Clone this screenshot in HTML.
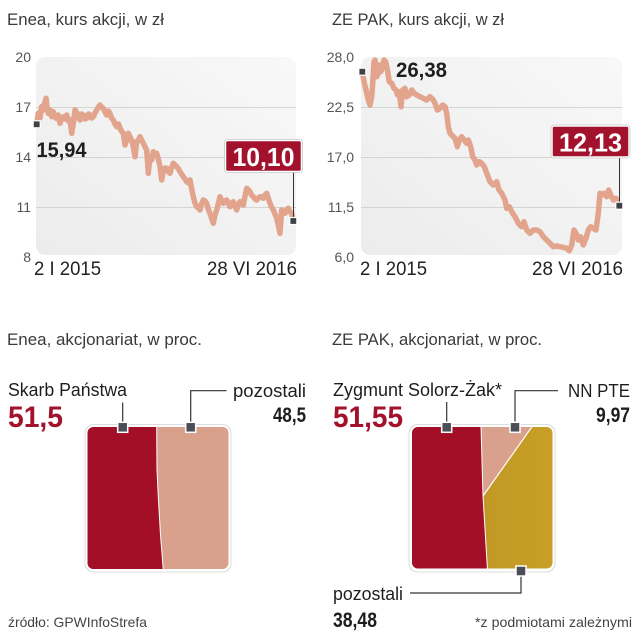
<!DOCTYPE html>
<html><head><meta charset="utf-8"><style>
html,body{margin:0;padding:0;background:#fff;}
svg{display:block;}
text{font-family:"Liberation Sans",sans-serif;}
</style></head><body>
<svg width="640" height="640" viewBox="0 0 640 640" xmlns="http://www.w3.org/2000/svg">
<defs>
<linearGradient id="bg" x1="0" y1="1" x2="1" y2="0">
<stop offset="0" stop-color="#ececec"/><stop offset="1" stop-color="#f8f8f8"/>
</linearGradient>
<linearGradient id="gold" x1="0" y1="0" x2="1" y2="0">
<stop offset="0" stop-color="#b8901f"/><stop offset="1" stop-color="#c8a028"/>
</linearGradient>
<clipPath id="c1"><rect x="87.5" y="427" width="141" height="142" rx="6"/></clipPath>
<clipPath id="c2"><rect x="412" y="427" width="140.5" height="141.5" rx="6"/></clipPath>
</defs>

<!-- Titles -->
<text x="7" y="25" font-size="17" fill="#3a3a3a" textLength="157" lengthAdjust="spacingAndGlyphs">Enea, kurs akcji, w zł</text>
<text x="332" y="25" font-size="17" fill="#3a3a3a" textLength="172" lengthAdjust="spacingAndGlyphs">ZE PAK, kurs akcji, w zł</text>

<!-- LEFT CHART -->
<rect x="36" y="57" width="260" height="198" rx="9" fill="url(#bg)"/>
<g stroke="#d4d4d4" stroke-width="1">
<line x1="36" y1="107.5" x2="296" y2="107.5"/>
<line x1="36" y1="157.5" x2="296" y2="157.5"/>
<line x1="36" y1="207.5" x2="296" y2="207.5"/>
</g>
<g font-size="14" fill="#555" text-anchor="end">
<text x="31" y="62">20</text>
<text x="31" y="112">17</text>
<text x="31" y="162">14</text>
<text x="31" y="212">11</text>
<text x="31" y="262">8</text>
</g>
<polyline fill="none" stroke="#e2a48c" stroke-width="5.5" stroke-linejoin="round" stroke-linecap="round" points="36.7,124.3 38.3,113.3 40,118 41.7,106.7 43.3,110 44.5,104 46,98.3 47.2,108 48.3,113.3 50,110 51.7,116.7 53.3,111.7 54.5,116 56,118.3 58.3,115 60,123.3 61.5,119 63.3,116.7 65,119 66.7,115 68.5,121 70,120 71.7,133.3 73.3,123.3 75,110 77.3,113.3 78.5,118 80,120 81.5,114 83.3,115 85,119 86.7,118.3 88.5,114 90,115 91.5,118 93.3,116.7 95,113 96.7,110 98.5,107 100,105 101.5,107 103.3,108.3 105,112 106.7,115 108.5,111 110,113.3 111.5,118 113.3,120 115,124 116.7,126.7 118.5,124 120,128.3 121.5,131 123.3,133.3 125,145 126.7,140 128.3,133.3 130,136.7 131.5,140 133.3,146.7 135,156.7 136.7,141.7 138.5,140 140,136.7 141.5,140 143.3,143.3 145,147 146.7,150 148.3,173.3 150,156.7 151.7,160 153.3,151.7 155,155 156.7,153.3 158.5,160 160,166.7 161.7,180 163.3,170 165,168 166.7,168.3 168.5,172 170,173.3 171.5,168 173.3,163.3 175,165 176.7,166.7 178.5,169 180,171.7 181.5,174 183.3,176.7 185,179 186.7,181.7 188.5,183 190,180 191.5,188 193.3,196.7 195,203 196.7,206.7 198.5,208 200,210 201.5,204 203.3,200 205,201 206.7,203.3 208.5,210 210,213.3 211.5,218 213.3,223.3 215,215 216.7,210 218.5,203 220,196.7 221.5,200 223.3,203.3 225,201 226.7,200 228.5,204 230,206.7 231.5,203 233.3,201.7 235,206 236.7,210 238.5,204 240,201.7 241.5,203 243.3,205 245,196 246.7,188.3 248.5,190 250,191.7 251.5,195 253.3,196.7 255,199 256.7,200 258.5,198 260,196.7 261.5,197 263.3,198.3 265,195 266.7,193.3 268.5,199 270,203.3 271.5,207 273.3,210 275,214 276.7,218.3 278.5,226 280,233.3 281.7,210 283.5,212 285,213.3 286.5,210 288.3,208.3 290,212 291.7,213.3 293.3,221"/>
<!-- markers -->
<rect x="33.2" y="120.8" width="7" height="7" fill="#3f4148" stroke="#fff" stroke-width="1.2"/>
<line x1="293.5" y1="171" x2="293.5" y2="219" stroke="#333" stroke-width="1"/>
<rect x="289.8" y="217.5" width="7" height="7" fill="#3f4148" stroke="#fff" stroke-width="1.2"/>
<text x="36.5" y="157" font-size="21" font-weight="bold" fill="#1e1e1e" textLength="50" lengthAdjust="spacingAndGlyphs">15,94</text>
<rect x="225.5" y="140.5" width="76" height="31" rx="2" fill="#a3122d" stroke="#fff" stroke-width="1.5"/>
<rect x="224.5" y="139.5" width="78" height="33" rx="3" fill="none" stroke="#c8c8c8" stroke-width="0.8"/>
<text x="263.5" y="166" font-size="26" font-weight="bold" fill="#fff" text-anchor="middle" textLength="62" lengthAdjust="spacingAndGlyphs">10,10</text>
<g font-size="19" fill="#222">
<text x="34" y="275" textLength="67" lengthAdjust="spacingAndGlyphs">2 I 2015</text>
<text x="207" y="275" textLength="90" lengthAdjust="spacingAndGlyphs">28 VI 2016</text>
</g>

<!-- RIGHT CHART -->
<rect x="361" y="57" width="261" height="198" rx="9" fill="url(#bg)"/>
<g stroke="#d4d4d4" stroke-width="1">
<line x1="361" y1="107.5" x2="622" y2="107.5"/>
<line x1="361" y1="157.5" x2="622" y2="157.5"/>
<line x1="361" y1="207.5" x2="622" y2="207.5"/>
</g>
<g font-size="14" fill="#555" text-anchor="end">
<text x="354" y="62">28,0</text>
<text x="354" y="112">22,5</text>
<text x="354" y="162">17,0</text>
<text x="354" y="212">11,5</text>
<text x="354" y="262">6,0</text>
</g>
<polyline fill="none" stroke="#e2a48c" stroke-width="5.5" stroke-linejoin="round" stroke-linecap="round" points="362.3,71.7 364,81.7 366,90 368.3,100 370,105 371.7,96.7 372.7,83.3 374,61.7 375,60 376.7,76.7 378.3,73.3 379.3,65 380.7,71.7 382.3,68.3 384,60 385.7,61.7 387.7,71.7 389.3,81.7 391.7,83.3 394,88.3 396,90 397.7,95 399.3,91.7 401,106.7 402.7,90 405,88.3 406.7,96.7 409.3,95 411.7,90 414.3,93.3 416.7,95 420,96.7 423.3,98.3 426.7,100 430,96.7 433.3,100 435,103.3 437.3,110 440,108.3 442.7,105 445,106.7 446.7,113.3 448.3,126.7 450,133.3 453.3,136.7 455,138.3 457.3,146.7 459.3,140 461.7,136.7 464,140 466.7,143.3 468.3,140 470.7,146.7 472.7,156.7 475,160 476.7,165 479.3,161.7 481.7,163.3 484.3,166.7 486.7,173.3 490,181.7 493.3,185 496.7,181.7 499,190 501.7,193.3 505,200 506.7,208.3 509.3,206.7 511.7,211.7 515,216.7 518.3,223.3 521.7,226.7 524,221.7 526.7,230 530,233.3 533.3,230 536.7,230 540,231.7 543.3,236.7 546.7,240 550,243.3 553.3,246.7 556.7,246 560,246.7 563.3,247.3 566.7,248.3 569.3,250.7 571.7,245 574,230 576,233.3 578.3,240 580.7,236.7 583.3,245 586,238.3 588.3,230 590.7,226.7 593.3,228.3 596,230 598.3,213.3 600,193.3 601.7,195 604,193.3 606.7,196.7 608.7,190 610.7,195 613.3,200 616,198.3 617.7,203.3 619.3,205.7"/>
<rect x="358.8" y="68.2" width="7" height="7" fill="#3f4148" stroke="#fff" stroke-width="1.2"/>
<line x1="619.5" y1="157" x2="619.5" y2="203" stroke="#333" stroke-width="1"/>
<rect x="615.8" y="202.2" width="7" height="7" fill="#3f4148" stroke="#fff" stroke-width="1.2"/>
<text x="396" y="77" font-size="21" font-weight="bold" fill="#1e1e1e" textLength="51" lengthAdjust="spacingAndGlyphs">26,38</text>
<rect x="552" y="126" width="77" height="31" rx="2" fill="#a3122d" stroke="#fff" stroke-width="1.5"/>
<rect x="551" y="125" width="79" height="33" rx="3" fill="none" stroke="#c8c8c8" stroke-width="0.8"/>
<text x="590.5" y="151.5" font-size="26" font-weight="bold" fill="#fff" text-anchor="middle" textLength="63" lengthAdjust="spacingAndGlyphs">12,13</text>
<g font-size="19" fill="#222">
<text x="360" y="275" textLength="67" lengthAdjust="spacingAndGlyphs">2 I 2015</text>
<text x="532" y="275" textLength="91" lengthAdjust="spacingAndGlyphs">28 VI 2016</text>
</g>

<!-- Bottom titles -->
<text x="7" y="345" font-size="17" fill="#3a3a3a" textLength="195" lengthAdjust="spacingAndGlyphs">Enea, akcjonariat, w proc.</text>
<text x="332" y="345" font-size="17" fill="#3a3a3a" textLength="210" lengthAdjust="spacingAndGlyphs">ZE PAK, akcjonariat, w proc.</text>

<!-- LEFT SQUARE -->
<rect x="84.5" y="424" width="147" height="148.5" rx="9" fill="#ddd"/>
<rect x="85.5" y="425" width="145" height="146.5" rx="8.5" fill="#fff"/>
<g clip-path="url(#c1)">
<rect x="87" y="426" width="142" height="144" fill="#d9a18c"/>
<path d="M87,426 L156.7,426 L157,470 L158.3,497 L160.5,535 L163.3,570 L87,570 Z" fill="#a30f27"/>
<path d="M156.7,426 L157,470 L158.3,497 L160.5,535 L163.3,570" fill="none" stroke="#fff" stroke-width="1"/>
</g>
<g stroke="#333" stroke-width="1.2" fill="none">
<line x1="122.7" y1="402.5" x2="122.7" y2="423"/>
<polyline points="190.7,423 190.7,390.7 226.5,390.7"/>
</g>
<rect x="117.7" y="422.3" width="10" height="10" fill="#4b4e57" stroke="#fff" stroke-width="1.5"/>
<rect x="185.7" y="422.3" width="10" height="10" fill="#4b4e57" stroke="#fff" stroke-width="1.5"/>
<text x="8" y="396" font-size="18" fill="#1e1e1e" textLength="119" lengthAdjust="spacingAndGlyphs">Skarb Państwa</text>
<text x="8" y="427" font-size="30" font-weight="bold" fill="#a3122d" textLength="55" lengthAdjust="spacingAndGlyphs">51,5</text>
<text x="233" y="397" font-size="18" fill="#1e1e1e" textLength="73" lengthAdjust="spacingAndGlyphs">pozostali</text>
<text x="306" y="422" font-size="21" font-weight="bold" fill="#1e1e1e" text-anchor="end" textLength="33" lengthAdjust="spacingAndGlyphs">48,5</text>
<text x="8" y="627" font-size="14" fill="#444" textLength="139" lengthAdjust="spacingAndGlyphs">źródło: GPWInfoStrefa</text>

<!-- RIGHT SQUARE -->
<rect x="408.5" y="424" width="147" height="148.5" rx="9" fill="#ddd"/>
<rect x="409.5" y="425" width="145" height="146.5" rx="8.5" fill="#fff"/>
<g clip-path="url(#c2)">
<rect x="411" y="426" width="143" height="144" fill="url(#gold)"/>
<path d="M481,426 L532.5,426 L483,496 Z" fill="#d9a18c"/>
<path d="M411,426 L481,426 L483,496 L487.5,570 L411,570 Z" fill="#a30f27"/>
<path d="M481,426 L483,496 L487.5,570" fill="none" stroke="#fff" stroke-width="1"/>
<path d="M532.5,426 L483,496" fill="none" stroke="#fff" stroke-width="1.2"/>
</g>
<g stroke="#333" stroke-width="1.2" fill="none">
<line x1="446.7" y1="402" x2="446.7" y2="423"/>
<polyline points="515,423 515,390.7 558,390.7"/>
<polyline points="521,575 521,593 410,593"/>
</g>
<rect x="441.7" y="422.3" width="10" height="10" fill="#4b4e57" stroke="#fff" stroke-width="1.5"/>
<rect x="510" y="422.3" width="10" height="10" fill="#4b4e57" stroke="#fff" stroke-width="1.5"/>
<rect x="516" y="566" width="10" height="10" fill="#4b4e57" stroke="#fff" stroke-width="1.5"/>
<text x="333" y="396" font-size="18" fill="#1e1e1e" textLength="169" lengthAdjust="spacingAndGlyphs">Zygmunt Solorz-Żak*</text>
<text x="333" y="427" font-size="30" font-weight="bold" fill="#a3122d" textLength="70" lengthAdjust="spacingAndGlyphs">51,55</text>
<text x="568" y="397" font-size="18" fill="#1e1e1e" textLength="62" lengthAdjust="spacingAndGlyphs">NN PTE</text>
<text x="630" y="422" font-size="21" font-weight="bold" fill="#1e1e1e" text-anchor="end" textLength="34" lengthAdjust="spacingAndGlyphs">9,97</text>
<text x="333" y="600" font-size="18" fill="#1e1e1e" textLength="70" lengthAdjust="spacingAndGlyphs">pozostali</text>
<text x="333" y="627" font-size="21" font-weight="bold" fill="#1e1e1e" textLength="44" lengthAdjust="spacingAndGlyphs">38,48</text>
<text x="632" y="627" font-size="14" fill="#444" text-anchor="end" textLength="157" lengthAdjust="spacingAndGlyphs">*z podmiotami zależnymi</text>
</svg>
</body></html>
